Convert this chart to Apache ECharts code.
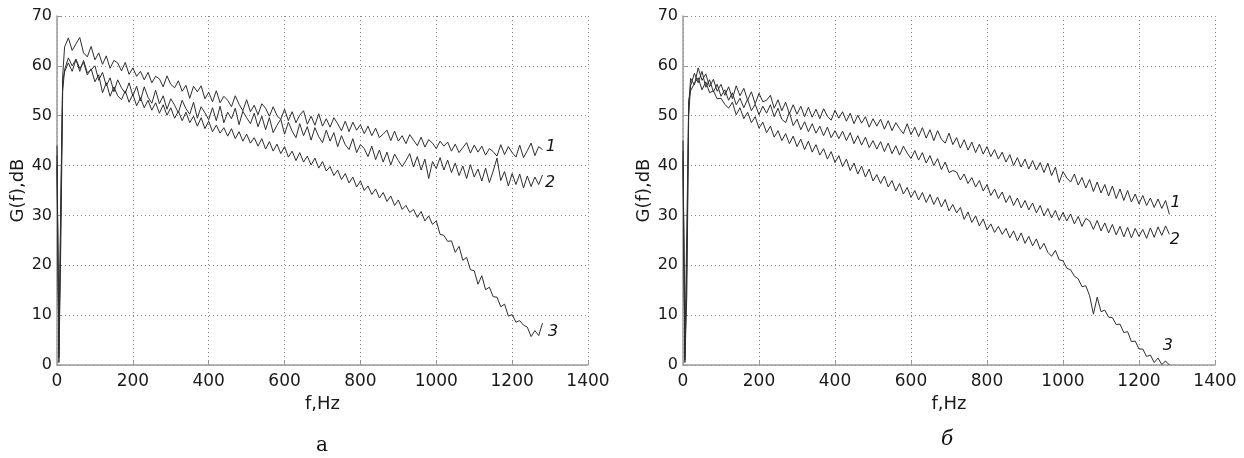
<!DOCTYPE html>
<html>
<head>
<meta charset="utf-8">
<title>G(f), dB</title>
<script src="https://cdn.jsdelivr.net/npm/echarts@6/dist/echarts.min.js"></script>
<style>
  html, body { margin: 0; padding: 0; background: #fff; }
  #chart { width: 1244px; height: 458px; }
</style>
</head>
<body>
<div id="chart"></div>
<script>
// Frequency grid, Hz: fine steps on the rising edge, then every 10 Hz up to 1280 Hz
const freq = [0, 5, 10, 15];
for (let f = 20; f <= 1280; f += 10) freq.push(f);

const xTicks = [0, 200, 400, 600, 800, 1000, 1200, 1400];
const yTicks = [0, 10, 20, 30, 40, 50, 60, 70];

// Panel "а": spectra 1, 2, 3 (dB)
const a1 = [44, 1.5, 30, 58,
  63.8, 65.6, 63.1, 64.4, 65.7, 62.6, 61.8, 63.9, 61.2, 62.6,
  60.3, 62.0, 59.5, 61.1, 60.6, 59.0, 60.7, 58.3, 59.6, 57.9,
  58.9, 57.2, 58.7, 56.6, 57.9, 57.4, 55.8, 58.0, 56.3, 55.6,
  57.0, 54.9, 56.1, 53.5, 55.9, 54.8, 56.0, 53.4, 54.7, 52.8,
  55.0, 52.6, 53.9, 53.1, 51.8, 54.0, 52.3, 51.0, 53.2, 50.8,
  52.1, 50.2, 52.4, 51.5, 49.9, 51.8, 50.0, 49.3, 51.3, 49.0,
  50.8, 48.6, 50.1, 51.0, 48.3, 49.9, 48.1, 50.4, 47.9, 49.4,
  47.7, 49.6, 48.4, 47.0, 48.9, 46.8, 48.7, 47.1, 48.2, 46.4,
  47.9, 46.0, 47.5, 45.6, 46.3, 47.1, 45.0, 46.9, 44.9, 46.0,
  44.4, 46.2, 45.1, 44.0, 45.7, 43.7, 45.2, 44.5, 43.4, 44.9,
  43.9, 44.7, 42.9, 44.3, 42.6, 43.6, 44.6, 42.5, 44.1, 42.7,
  43.9, 42.1, 43.4, 42.8, 41.9, 44.2, 42.2, 43.8, 42.6, 41.7,
  44.1, 41.6, 43.0, 44.5, 42.0, 43.8, 43.2];
const a2 = [42, 0.5, 24, 55,
  59.2, 61.6, 60.0, 61.3, 58.9, 61.1, 58.6, 59.2, 60.0, 57.1,
  58.7, 56.0, 57.6, 54.8, 57.2, 55.6, 54.5, 56.6, 54.0, 55.9,
  53.0, 55.8, 53.7, 52.5, 55.1, 52.4, 54.0, 51.3, 53.4, 52.1,
  50.6, 53.1, 51.4, 50.3, 52.7, 49.5, 51.8, 50.6, 49.2, 51.6,
  49.0, 51.9, 48.6, 50.7, 49.4, 51.5, 48.2, 50.9, 49.6, 48.4,
  50.5, 47.8, 49.9, 47.2, 49.6, 46.6, 48.1, 49.3, 46.3, 48.7,
  46.9, 45.6, 48.4, 46.0, 47.8, 45.1, 47.6, 45.8, 44.6, 47.1,
  44.9, 46.6, 43.8, 46.0, 44.2, 43.2, 45.4, 42.6, 44.2, 43.4,
  41.8, 43.9, 41.2, 43.1, 40.7, 42.7, 40.1, 42.3, 41.0, 39.8,
  41.0, 42.4, 39.7, 41.8, 39.1, 41.3, 37.4, 40.8, 39.4, 41.6,
  39.1, 41.1, 38.6, 40.5, 38.0, 39.9, 37.4, 40.2, 37.7, 39.3,
  36.9, 39.5, 36.6, 38.9, 41.5, 37.0, 38.8, 35.9, 38.4, 36.2,
  38.3, 35.5, 37.9, 35.8, 37.7, 36.2, 38.1];
const a3 = [40, 3, 33, 57,
  58.8, 60.6, 58.9, 61.3, 59.5, 60.7, 58.2, 59.4, 56.8, 58.2,
  54.6, 56.6, 53.9, 55.8, 54.0, 53.2, 55.0, 52.7, 54.3, 52.0,
  53.6, 51.6, 53.1, 51.1, 52.6, 50.5, 52.2, 50.1, 51.6, 49.5,
  50.9, 49.0, 50.7, 48.6, 49.9, 47.9, 49.6, 47.4, 48.9, 46.8,
  48.1, 46.5, 47.6, 45.9, 47.4, 45.4, 46.8, 44.9, 46.3, 44.5,
  45.6, 43.9, 45.4, 43.3, 44.8, 42.9, 44.3, 42.4, 43.8, 41.7,
  42.9, 41.0, 42.6, 40.7, 41.9, 40.1, 41.5, 39.5, 40.8, 38.9,
  39.8, 38.0, 39.1, 37.2, 38.4, 36.5, 37.7, 35.7, 36.9, 35.0,
  35.9, 34.2, 35.3, 33.5, 34.6, 32.8, 33.9, 32.0, 33.1, 31.2,
  32.0, 30.6, 31.2, 29.6, 30.8, 28.9, 29.9, 28.2, 28.9, 26.2,
  26.0, 24.8, 24.9, 22.6, 23.8, 21.0, 21.6, 19.1, 18.9, 16.2,
  17.9, 15.1, 15.6, 13.7, 13.6, 11.7, 12.2, 9.8, 10.1, 8.6,
  8.9, 8.0, 7.6, 5.7, 6.9, 5.9, 8.4];

// Panel "б": spectra 1, 2, 3 (dB)
const b1 = [45, 1, 20, 52,
  57.5, 56.2, 59.6, 57.1, 58.4, 55.8, 57.3, 54.9, 56.3, 54.1,
  55.8, 53.4, 56.0, 54.0, 55.5, 53.1, 54.8, 52.4, 54.5, 52.8,
  53.1, 54.1, 51.5, 53.2, 51.0, 52.7, 50.4, 52.2, 50.3, 51.9,
  49.8, 51.7, 49.7, 51.3, 49.4, 51.4, 49.9, 49.1, 51.1, 49.5,
  50.8, 48.9, 50.5, 48.4, 50.1, 48.5, 49.8, 47.7, 49.4, 47.9,
  49.3, 47.3, 49.0, 47.0, 48.6, 47.4, 46.4, 48.4, 46.2, 47.7,
  45.8, 47.6, 45.5, 47.2, 45.0, 47.0, 45.3, 44.5, 46.5, 44.2,
  45.6, 43.5, 45.2, 43.1, 44.7, 42.6, 44.3, 42.3, 43.8, 41.8,
  43.2, 41.3, 42.7, 40.7, 42.2, 40.0, 41.6, 39.7, 41.3, 39.3,
  41.0, 39.1, 40.6, 38.6, 40.5, 38.0, 39.7, 36.6, 38.8, 37.5,
  36.7, 38.3, 36.1, 37.6, 35.5, 37.2, 34.8, 36.7, 34.5, 36.2,
  33.9, 35.9, 33.4, 35.3, 33.0, 35.0, 32.7, 34.3, 32.3, 34.0,
  32.0, 33.5, 31.6, 33.3, 31.4, 33.0, 30.2];
const b2 = [43, 0.5, 14, 50,
  56.0, 58.5, 56.6, 58.9, 55.7, 57.2, 54.8, 56.3, 53.9, 55.2,
  53.1, 54.6, 52.2, 53.5, 51.6, 53.3, 51.0, 52.3, 50.2, 51.9,
  50.5, 52.2, 49.8, 51.5, 49.3, 48.6, 50.7, 48.0, 49.3, 47.2,
  48.8, 46.8, 48.4, 46.5, 47.9, 46.0, 47.7, 45.6, 47.0, 45.4,
  46.9, 45.0, 46.6, 44.4, 46.0, 44.1, 45.7, 43.6, 45.0, 43.3,
  44.8, 42.8, 44.5, 42.4, 44.0, 42.1, 43.9, 42.5, 41.4, 43.0,
  41.1, 42.6, 40.5, 42.0, 40.0, 41.4, 39.2, 40.7, 38.6, 39.0,
  38.7, 37.1, 38.3, 36.4, 37.6, 35.7, 37.0, 34.9, 36.2, 34.0,
  35.3, 33.4, 34.7, 32.6, 34.0, 32.0, 33.5, 31.5, 33.0, 31.1,
  32.5, 30.5, 32.0, 29.9, 31.4, 29.5, 31.0, 29.0, 30.6, 28.9,
  30.3, 28.3, 29.8, 27.8, 29.4, 28.9, 27.2, 29.0, 26.9, 28.5,
  26.5, 28.2, 26.1, 27.8, 25.7, 27.6, 25.5, 27.4, 25.8, 27.2,
  25.4, 27.5, 25.6, 27.7, 26.0, 27.9, 26.2];
const b3 = [41, 2, 27, 53,
  55.0, 56.5, 57.6, 55.2, 56.8, 54.6, 55.0, 53.4, 53.5, 52.3,
  51.5, 52.7, 50.2, 51.6, 49.4, 50.7, 48.6, 49.8, 47.5, 48.7,
  46.6, 47.9, 45.7, 47.0, 45.0, 46.4, 44.4, 45.9, 43.8, 45.3,
  43.2, 44.9, 42.7, 44.2, 42.1, 43.4, 41.3, 42.8, 40.6, 42.0,
  39.8, 41.3, 39.0, 40.5, 38.3, 39.9, 37.7, 39.3, 36.9, 38.2,
  36.4, 37.9, 35.7, 37.0, 34.9, 36.4, 34.3, 35.6, 33.6, 35.0,
  33.1, 34.6, 32.6, 34.2, 32.2, 33.7, 31.7, 33.2, 30.9, 32.2,
  30.5, 31.6, 29.2, 30.7, 28.6, 29.9, 27.9, 29.3, 27.1, 28.3,
  26.6, 27.8, 26.2, 27.4, 25.5, 26.9, 24.9, 26.5, 24.4, 25.8,
  23.9, 25.3, 23.2, 24.4, 22.6, 21.8, 23.0, 21.1, 20.9, 19.4,
  19.1, 17.8, 17.3, 15.7, 15.9, 13.9, 10.2, 13.6, 10.7, 11.0,
  9.6, 9.5, 8.1, 8.2, 6.5, 6.7, 4.7, 4.8, 3.2, 3.2,
  1.7, 2.0, 0.5, 1.4, 0.1, 0.8, 0.0];

// Curve numbers placed just past each curve's end, in data units [f, dB]
const curveNames = ['1', '2', '3'];
const tagPosA = [[1302, 43.7], [1300, 36.5], [1308, 6.6]];
const tagPosB = [[1296, 32.5], [1294, 25.1], [1276, 3.8]];

const SANS = '"DejaVu Sans", "Liberation Sans", Arial, sans-serif';
const SERIF = '"DejaVu Serif", "Liberation Serif", serif';
const AXIS_GRAY = '#9a9a9a';
const plain = v => String(v);

function xAxisCfg(gridIndex) {
  return {
    gridIndex, type: 'value', min: 0, max: 1400, interval: 200,
    name: 'f,Hz', nameLocation: 'middle', nameGap: 28,
    nameTextStyle: { fontFamily: SANS, fontSize: 18, color: '#1a1a1a' },
    axisLine: { lineStyle: { color: AXIS_GRAY, width: 1.5 } },
    axisTick: { inside: true, length: 4, lineStyle: { color: AXIS_GRAY } },
    axisLabel: { fontFamily: SANS, fontSize: 17, color: '#1a1a1a', margin: 8,
      customValues: xTicks, formatter: plain },
    splitLine: { show: true, lineStyle: { type: [1, 3], color: '#8a8a8a', width: 1 } }
  };
}
function yAxisCfg(gridIndex) {
  return {
    gridIndex, type: 'value', min: 0, max: 70, interval: 10,
    name: 'G(f),dB', nameLocation: 'middle', nameGap: 25,
    nameTextStyle: { fontFamily: SANS, fontSize: 18, color: '#1a1a1a' },
    axisLine: { show: true, lineStyle: { color: AXIS_GRAY, width: 1.5 } },
    axisTick: { show: true, inside: true, length: 4, lineStyle: { color: AXIS_GRAY } },
    axisLabel: { fontFamily: SANS, fontSize: 16, color: '#1a1a1a', margin: 5,
      customValues: yTicks, formatter: plain },
    splitLine: { show: true, lineStyle: { type: [1, 3], color: '#8a8a8a', width: 1 } }
  };
}

function curve(vals, idx, tagPos, axisIdx) {
  return {
    type: 'line',
    xAxisIndex: axisIdx, yAxisIndex: axisIdx,
    data: vals.map((v, i) => [freq[i], v]),
    symbol: 'none', showSymbol: false, clip: true,
    lineStyle: { color: '#2e2e2e', width: 1 },
    animation: false, silent: true,
    markPoint: {
      symbol: 'circle', symbolSize: 0, silent: true, animation: false,
      label: { show: true, position: 'inside', formatter: curveNames[idx],
        fontFamily: SANS, fontStyle: 'italic', fontSize: 16, color: '#111' },
      data: [{ coord: tagPos[idx] }]
    }
  };
}

const chart = echarts.init(document.getElementById('chart'), null, { renderer: 'canvas' });
chart.setOption({
  animation: false,
  backgroundColor: '#ffffff',
  grid: [
    { left: 57, top: 16, width: 531, height: 349 },
    { left: 683, top: 16, width: 532, height: 349 }
  ],
  xAxis: [xAxisCfg(0), xAxisCfg(1)],
  yAxis: [yAxisCfg(0), yAxisCfg(1)],
  series: [
    curve(a1, 0, tagPosA, 0), curve(a2, 1, tagPosA, 0), curve(a3, 2, tagPosA, 0),
    curve(b1, 0, tagPosB, 1), curve(b2, 1, tagPosB, 1), curve(b3, 2, tagPosB, 1)
  ],
  graphic: [
    { type: 'text', left: 316, top: 436,
      style: { text: 'а', font: '20px ' + SERIF, fill: '#111' } },
    { type: 'text', left: 941, top: 430,
      style: { text: 'б', font: 'italic 20px ' + SERIF, fill: '#111' } }
  ]
});
</script>
</body>
</html>
